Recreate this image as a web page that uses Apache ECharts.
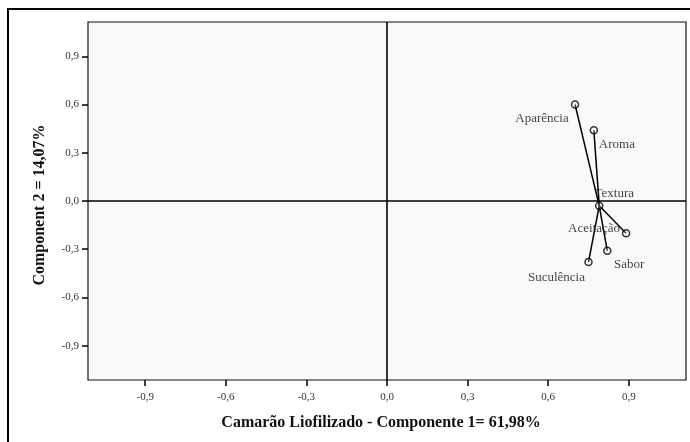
<!DOCTYPE html>
<html>
<head>
<meta charset="utf-8">
<script src="https://cdn.jsdelivr.net/npm/echarts@6/dist/echarts.min.js"></script>
<style>
  html, body { margin: 0; padding: 0; background: #fff; }
  #chart { width: 690px; height: 442px; }
</style>
</head>
<body>
<div id="chart"></div>
<script>
// Component loadings (Componente 1, Component 2) for each attribute
const attributes = ['Aparência', 'Aroma', 'Textura', 'Aceitação', 'Sabor', 'Suculência'];
const comp1 = [0.70, 0.77, 0.79, 0.89, 0.82, 0.75];
const comp2 = [0.60, 0.44, -0.03, -0.20, -0.31, -0.38];

// Every attribute is joined to this one by a straight segment
const hubName = 'Textura';

// Tick values shown on both axes
const tickValues = [-0.9, -0.6, -0.3, 0.0, 0.3, 0.6, 0.9];

const xTitle = 'Camarão Liofilizado - Componente 1= 61,98%';
const yTitle = 'Component 2 = 14,07%';

// Label placement around each marker (pixels)
const labelOffsets = {
  'Aparência': [-33, 14],
  'Aroma': [23, 14],
  'Textura': [15, -12],
  'Aceitação': [-32, -5],
  'Sabor': [22, 14],
  'Suculência': [-32, 15]
};

const FONT = '"Liberation Serif", "DejaVu Serif", serif';
const fmt = v => v.toFixed(1).replace('.', ',');

const points = attributes.map((n, i) => [comp1[i], comp2[i]]);
const hubIdx = attributes.indexOf(hubName);

const raySeries = attributes
  .map((n, i) => i)
  .filter(i => i !== hubIdx)
  .map(i => ({
    type: 'line',
    data: [points[i], points[hubIdx]],
    symbol: 'none',
    silent: true,
    lineStyle: { color: '#000', width: 1.5 },
    z: 3
  }));

const axisCommon = {
  type: 'value',
  min: -1.113,
  max: 1.113,
  splitLine: { show: false },
  axisLine: { show: false, onZero: false },
  axisTick: {
    show: true, length: 6, customValues: tickValues,
    lineStyle: { color: '#000', width: 1.5 }
  },
  axisLabel: {
    customValues: tickValues,
    formatter: fmt,
    color: '#333',
    fontFamily: FONT,
    fontSize: 11
  }
};

const chart = echarts.init(document.getElementById('chart'), null, { renderer: 'canvas' });
chart.setOption({
  animation: false,
  backgroundColor: '#fff',
  grid: {
    left: 88, right: 4, top: 22, bottom: 62,
    show: true,
    backgroundColor: '#f9f9f9',
    borderColor: '#111',
    borderWidth: 1.2
  },
  xAxis: Object.assign({}, axisCommon, {
    axisLabel: Object.assign({}, axisCommon.axisLabel, { margin: 12 })
  }),
  yAxis: Object.assign({}, axisCommon, {
    axisLabel: Object.assign({}, axisCommon.axisLabel, { margin: 9 })
  }),
  graphic: [
    {
      type: 'rect', silent: true, z: -1,
      shape: { x: 8, y: 9, width: 720, height: 470 },
      style: { fill: 'none', stroke: '#000', lineWidth: 2 }
    },
    {
      type: 'text', x: 381, y: 423, silent: true,
      style: {
        text: xTitle, fill: '#111', font: 'bold 16px ' + FONT,
        align: 'center', verticalAlign: 'middle'
      }
    },
    {
      type: 'text', x: 40, y: 205, rotation: Math.PI / 2, silent: true,
      style: {
        text: yTitle, fill: '#111', font: 'bold 16px ' + FONT,
        align: 'center', verticalAlign: 'middle'
      }
    }
  ],
  series: [
    {
      type: 'line',
      data: [],
      silent: true,
      markLine: {
        silent: true,
        symbol: 'none',
        label: { show: false },
        lineStyle: { color: '#000', width: 1.6, type: 'solid' },
        data: [{ xAxis: 0 }, { yAxis: 0 }]
      },
      z: 2
    },
    ...raySeries,
    {
      type: 'scatter',
      symbol: 'circle',
      symbolSize: 7,
      itemStyle: { color: 'rgba(249,249,249,0.3)', borderColor: '#000', borderWidth: 1.5 },
      z: 4,
      data: attributes.map((n, i) => ({
        name: n,
        value: points[i],
        label: {
          show: true,
          position: 'inside',
          offset: labelOffsets[n],
          formatter: n,
          color: '#111',
          fontFamily: FONT,
          fontSize: 13
        }
      }))
    }
  ]
});
</script>
</body>
</html>
